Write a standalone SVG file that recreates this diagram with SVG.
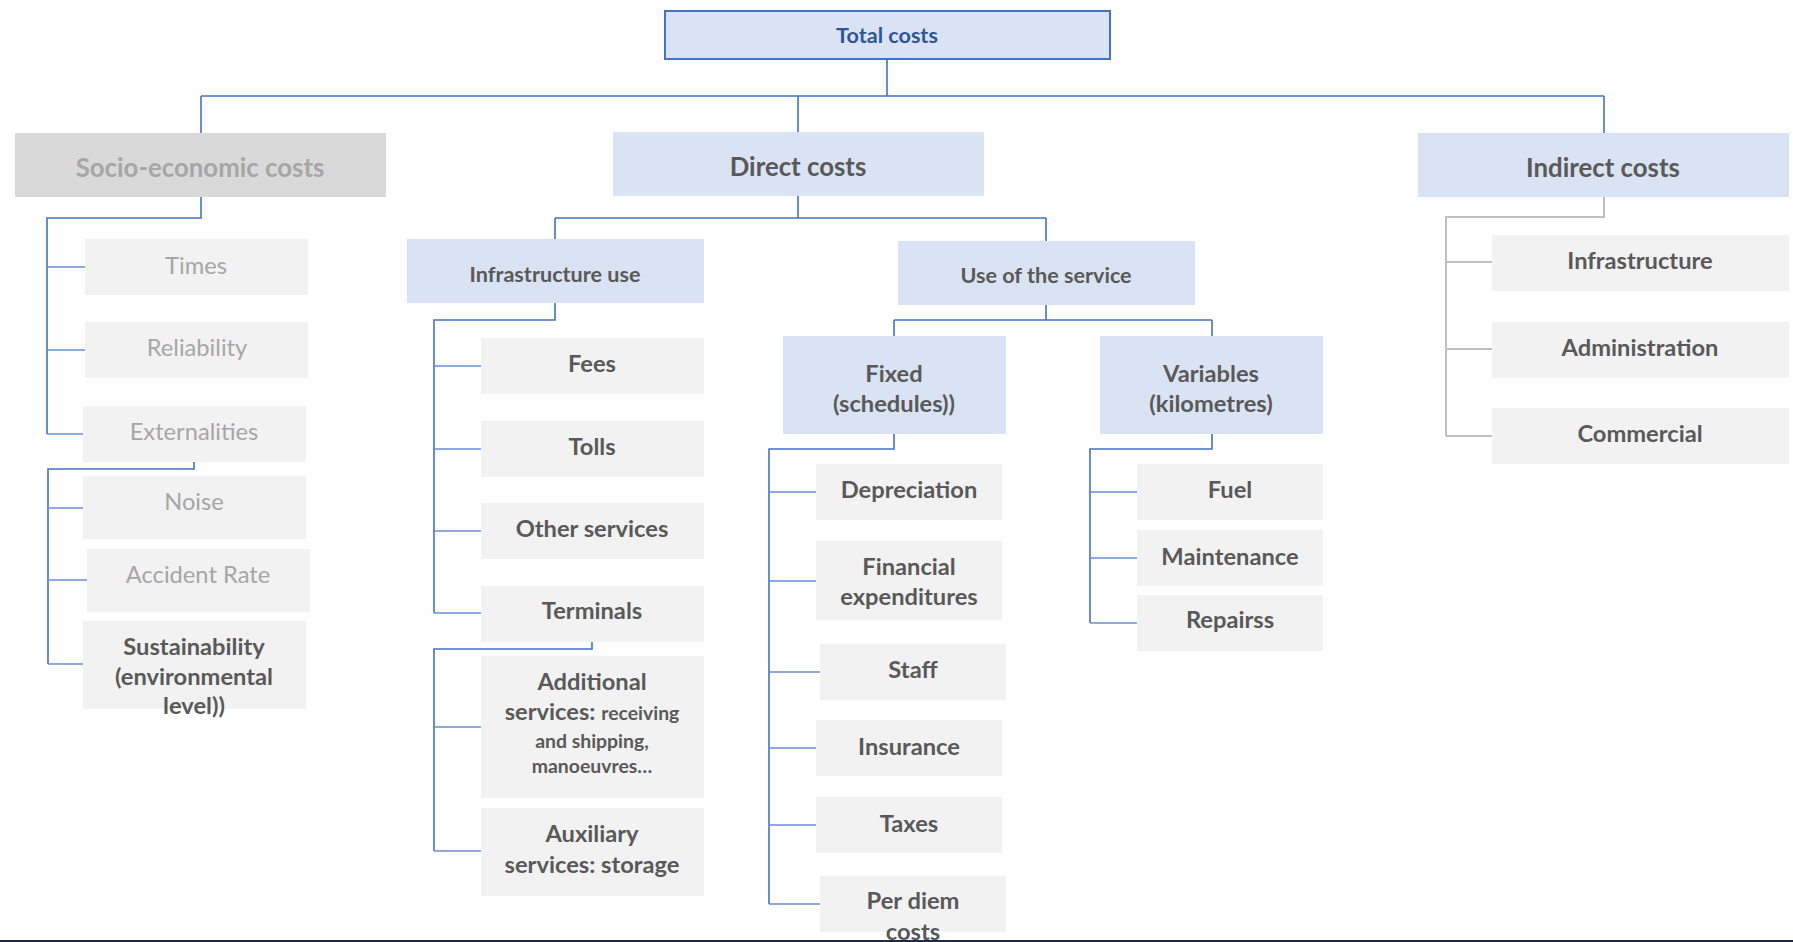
<svg xmlns="http://www.w3.org/2000/svg" width="1793" height="942" viewBox="0 0 1793 942">
<style>
.t{font-family:Lato,"Liberation Sans",sans-serif;text-anchor:middle}
.b{font-weight:bold}
.dk{fill:#595959}
.gy{fill:#A6A6A6}
.blue{fill:#DAE3F3}
.lite{fill:#F2F2F2}
.soc{fill:#D9D9D9}
.c{fill:none;stroke:#4472C4;stroke-width:1.6}
.s{fill:none;stroke:#6A8FD3;stroke-width:1.3}
.g{fill:none;stroke:#BFBFBF;stroke-width:2}
.f23{font-size:23.7px}
.f25{font-size:25.8px}
.f21{font-size:21.6px}
.f19{font-size:19.4px}
</style>
<rect width="1793" height="942" fill="#FFFFFF"/>
<g id="connectors">
<path class="c" d="M887,59V96M201,96H1604M201,96V133M798,96V132M1604,96V133"/>
<path class="c" d="M201,197V218H47V434"/>
<path class="s" d="M47,267H85M47,350H85M47,434H83"/>
<path class="c" d="M194,462V469H48V664"/>
<path class="s" d="M48,508H83M48,580H87M48,664H83"/>
<path class="c" d="M798,196V218M555,218H1046M555,218V239M1046,218V241"/>
<path class="c" d="M555,303V320H434V613"/>
<path class="s" d="M434,366H481M434,449H481M434,531H481M434,613H481"/>
<path class="c" d="M592,642V649H434V851"/>
<path class="s" d="M434,727H481M434,851H481"/>
<path class="c" d="M1046,305V320M894,320H1212M894,320V336M1212,320V336"/>
<path class="c" d="M894,434V449H769V904"/>
<path class="s" d="M769,492H816M769,581H816M769,672H820M769,748H816M769,825H816M769,904H820"/>
<path class="c" d="M1212,434V449H1090V623"/>
<path class="s" d="M1090,492H1137M1090,558H1137M1090,623H1137"/>
<path class="g" d="M1604,197V217H1446V436M1446,262H1492M1446,349H1492M1446,436H1492"/>
</g>
<g id="total"><rect x="665" y="11" width="445" height="48" class="blue" stroke="#4472C4" stroke-width="2"/><text class="t b f21" x="887" y="43" fill="#2F5597">Total costs</text></g>
<g id="socio"><rect x="15" y="133" width="371" height="64" class="soc"/><text class="t b f25 gy" x="200" y="177">Socio-economic costs</text></g>
<g id="direct"><rect x="613" y="132" width="371" height="64" class="blue"/><text class="t b f25 dk" x="798" y="176">Direct costs</text></g>
<g id="indirect"><rect x="1418" y="133" width="371" height="64" class="blue"/><text class="t b f25 dk" x="1603" y="177">Indirect costs</text></g>
<g id="times"><rect x="85" y="239" width="223" height="56" class="lite"/><text class="t f23 gy" x="196" y="274">Times</text></g>
<g id="reliability"><rect x="85" y="322" width="223" height="56" class="lite"/><text class="t f23 gy" x="197" y="356">Reliability</text></g>
<g id="externalities"><rect x="83" y="406" width="223" height="56" class="lite"/><text class="t f23 gy" x="194" y="440">Externalities</text></g>
<g id="noise"><rect x="83" y="476" width="223" height="63" class="lite"/><text class="t f23 gy" x="194" y="510">Noise</text></g>
<g id="accident"><rect x="87" y="549" width="223" height="63" class="lite"/><text class="t f23 gy" x="198" y="583">Accident Rate</text></g>
<g id="sustainability"><rect x="83" y="621" width="223" height="88" class="lite"/><text class="t b f23 dk" x="194"><tspan x="194" y="655">Sustainability</tspan><tspan x="194" y="685">(environmental</tspan><tspan x="194" y="714">level))</tspan></text></g>
<g id="infra-use"><rect x="407" y="239" width="297" height="64" class="blue"/><text class="t b f21 dk" x="555" y="282">Infrastructure use</text></g>
<g id="fees"><rect x="481" y="338" width="223" height="56" class="lite"/><text class="t b f23 dk" x="592" y="372">Fees</text></g>
<g id="tolls"><rect x="481" y="421" width="223" height="56" class="lite"/><text class="t b f23 dk" x="592" y="455">Tolls</text></g>
<g id="other"><rect x="481" y="503" width="223" height="56" class="lite"/><text class="t b f23 dk" x="592" y="537">Other services</text></g>
<g id="terminals"><rect x="481" y="586" width="223" height="56" class="lite"/><text class="t b f23 dk" x="592" y="619">Terminals</text></g>
<g id="additional"><rect x="481" y="656" width="223" height="142" class="lite"/><text class="t b dk" x="592"><tspan x="592" y="690" class="f23">Additional</tspan><tspan x="592" y="720" class="f23">services: <tspan class="f19">receiving</tspan></tspan><tspan x="592" y="748" class="f19">and shipping,</tspan><tspan x="592" y="773" class="f19">manoeuvres…</tspan></text></g>
<g id="auxiliary"><rect x="481" y="808" width="223" height="88" class="lite"/><text class="t b f23 dk" x="592"><tspan x="592" y="842">Auxiliary</tspan><tspan x="592" y="873">services: storage</tspan></text></g>
<g id="use-service"><rect x="898" y="241" width="297" height="64" class="blue"/><text class="t b f21 dk" x="1046" y="283">Use of the service</text></g>
<g id="fixed"><rect x="783" y="336" width="223" height="98" class="blue"/><text class="t b f23 dk" x="894"><tspan x="894" y="382">Fixed</tspan><tspan x="894" y="412">(schedules))</tspan></text></g>
<g id="variables"><rect x="1100" y="336" width="223" height="98" class="blue"/><text class="t b f23 dk" x="1211"><tspan x="1211" y="382">Variables</tspan><tspan x="1211" y="412">(kilometres)</tspan></text></g>
<g id="depreciation"><rect x="816" y="464" width="186" height="56" class="lite"/><text class="t b f23 dk" x="909" y="498">Depreciation</text></g>
<g id="financial"><rect x="816" y="541" width="186" height="79" class="lite"/><text class="t b f23 dk" x="909"><tspan x="909" y="575">Financial</tspan><tspan x="909" y="605">expenditures</tspan></text></g>
<g id="staff"><rect x="820" y="644" width="186" height="56" class="lite"/><text class="t b f23 dk" x="913" y="678">Staff</text></g>
<g id="insurance"><rect x="816" y="720" width="186" height="56" class="lite"/><text class="t b f23 dk" x="909" y="755">Insurance</text></g>
<g id="taxes"><rect x="816" y="797" width="186" height="56" class="lite"/><text class="t b f23 dk" x="909" y="832">Taxes</text></g>
<g id="perdiem"><rect x="820" y="876" width="186" height="56" class="lite"/><text class="t b f23 dk" x="913"><tspan x="913" y="909">Per diem</tspan><tspan x="913" y="940">costs</tspan></text></g>
<g id="fuel"><rect x="1137" y="464" width="186" height="56" class="lite"/><text class="t b f23 dk" x="1230" y="498">Fuel</text></g>
<g id="maintenance"><rect x="1137" y="530" width="186" height="56" class="lite"/><text class="t b f23 dk" x="1230" y="565">Maintenance</text></g>
<g id="repairs"><rect x="1137" y="595" width="186" height="56" class="lite"/><text class="t b f23 dk" x="1230" y="628">Repairss</text></g>
<g id="ind-infra"><rect x="1492" y="235" width="297" height="56" class="lite"/><text class="t b f23 dk" x="1640" y="269">Infrastructure</text></g>
<g id="admin"><rect x="1492" y="322" width="297" height="56" class="lite"/><text class="t b f23 dk" x="1640" y="356">Administration</text></g>
<g id="commercial"><rect x="1492" y="408" width="297" height="56" class="lite"/><text class="t b f23 dk" x="1640" y="442">Commercial</text></g>
<line x1="0" y1="941" x2="1793" y2="941" stroke="#1F2A44" stroke-width="2"/>
</svg>
